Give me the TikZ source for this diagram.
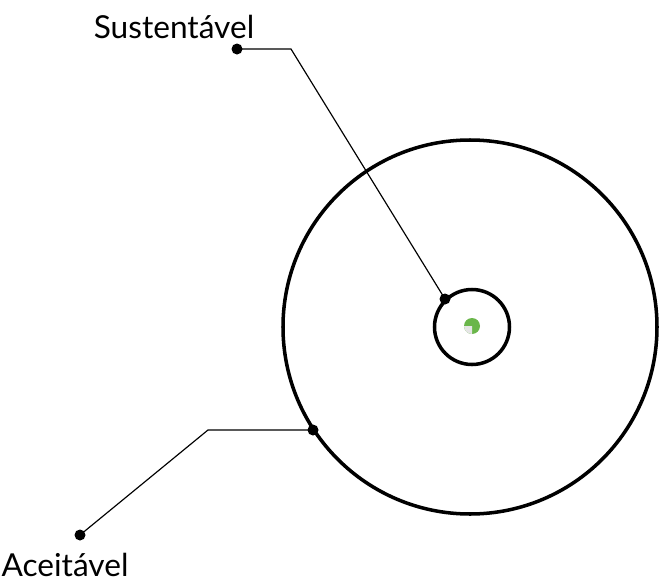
\documentclass[tikz,border=0pt]{standalone}
\usepackage{fontspec}
\setmainfont{Lato}
\usetikzlibrary{positioning}
\definecolor{leaf}{HTML}{6AB64A}

\begin{document}
\begin{tikzpicture}[x=0.03cm,y=-0.03cm,
  ring/.style={circle,draw,line width=3pt,inner sep=0pt},
  pin/.style={circle,fill=black,minimum size=3.3mm,inner sep=0pt},
  lead/.style={draw,line width=1pt},
  lab/.style={font=\fontsize{27}{30}\selectfont,anchor=base}
]
  \useasboundingbox (0,0) rectangle (660,583);
  % circles
  \node[ring,minimum size=374*0.03cm] (outer) at (470,327) {};
  \node[ring,minimum size=75*0.03cm] (inner) at (472,327) {};
  \fill[leaf] (472,326) circle (8);
  \fill[gray!20] (472,326) -- (464,326) arc (180:90:8) -- cycle;
  % pins
  \node[pin] (p1) at (237,49) {};
  \coordinate (b1) at (291,49);
  \node[pin] (p2) at (445,299) {};
  \node[pin] (p3) at (80,535) {};
  \coordinate (b2) at (208,430);
  \node[pin] (p4) at (313,430) {};
  \draw[lead] (p1.center)--(b1)--(p2.center);
  \draw[lead] (p3.center)--(b2)--(p4.center);
  % labels
  \node[lab] (sus) at (174,38) {Sustentável};
  \node[lab] (ace) at (65,576) {Aceitável};
\end{tikzpicture}
\end{document}
